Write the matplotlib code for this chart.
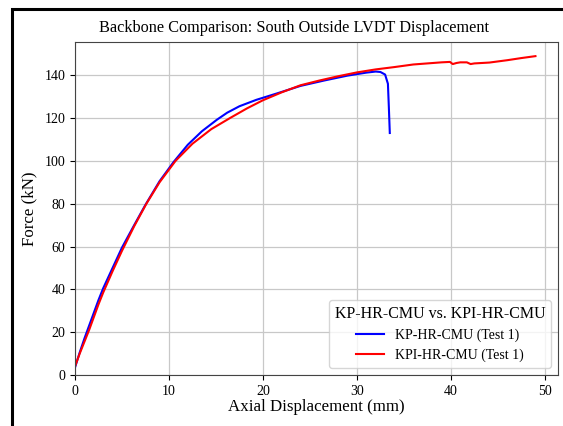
import matplotlib.pyplot as plt
from matplotlib.patches import Rectangle

plt.rcParams['font.family'] = ['Liberation Serif', 'DejaVu Serif']

# KP-HR-CMU (Test 1)
kp_x = [0, 0.5, 1.0, 1.5, 2.0, 2.5, 3.0, 4.0, 5.0, 6.3, 7.5, 9.0, 10.5, 12.0, 13.5, 15.1,
        16.2, 17.5, 19.3, 21.5, 24.0, 26.5, 29.0, 31.0, 32.0, 32.5, 33.0, 33.3, 33.4, 33.5]
kp_y = [3.5, 10.5, 17, 23, 29, 35, 40.5, 50, 59.5, 70, 79.5, 90.5, 99.5, 107.5, 113.8, 119.2,
        122.5, 125.5, 128.5, 131.5, 135, 137.5, 139.8, 141.2, 141.7, 141.5, 140.3, 136, 125, 113]

# KPI-HR-CMU (Test 1)
kpi_x = [0, 0.5, 1.0, 1.5, 2.0, 2.5, 3.0, 4.0, 5.0, 6.3, 7.6, 9.0, 10.7, 12.5, 14.5, 16.5,
         18.3, 20.0, 22.0, 24.0, 26.0, 28.0, 30.0, 32.0, 34.0, 36.0, 37.5, 39.0, 39.9,
         40.2, 40.6, 41.0, 41.7, 42.1, 42.5, 44.1, 46.0, 47.5, 49.0]
kpi_y = [4, 10, 15.5, 21, 27, 33, 38.5, 48.5, 58, 69.5, 80, 90, 100, 108, 114.8, 120,
         124.5, 128.3, 132, 135.3, 137.5, 139.5, 141.3, 142.7, 143.8, 145, 145.5, 146, 146.2,
         145.2, 145.7, 146, 146, 145.2, 145.5, 145.9, 147, 148, 148.9]

fig = plt.figure(figsize=(5.63, 4.26), dpi=100)
ax = fig.add_axes([75 / 563, 1 - 375 / 426, (558 - 75) / 563, (375 - 42) / 426])

ax.plot(kp_x, kp_y, color='blue', lw=1.5, label='KP-HR-CMU (Test 1)')
ax.plot(kpi_x, kpi_y, color='red', lw=1.5, label='KPI-HR-CMU (Test 1)')

ax.set_xlim(0, 51.4)
ax.set_ylim(0, 155.5)
ax.set_xticks([0, 10, 20, 30, 40, 50])
ax.set_yticks(range(0, 141, 20))
ax.tick_params(labelsize=10)
ax.grid(True, color='#c8c8c8', lw=0.9)
for s in ax.spines.values():
    s.set_color('#444444')

ax.set_xlabel('Axial Displacement (mm)', fontsize=12.2, labelpad=1)
ax.set_ylabel('Force (kN)', fontsize=12.2, labelpad=5)
fig.text(294 / 563, 1 - 31.5 / 426, 'Backbone Comparison: South Outside LVDT Displacement',
         ha='center', va='baseline', fontsize=11.7)

leg = ax.legend(title='KP-HR-CMU vs. KPI-HR-CMU', loc='lower right', fontsize=10,
                title_fontsize=11.5, framealpha=0.8)

# black frame around the (cropped) figure
fig.patches.append(Rectangle((12 / 563, -0.2), 1.2, 1.2 - 9 / 426, transform=fig.transFigure,
                             fill=False, ec='black', lw=2.2))

fig.savefig('out.png', dpi=100)
